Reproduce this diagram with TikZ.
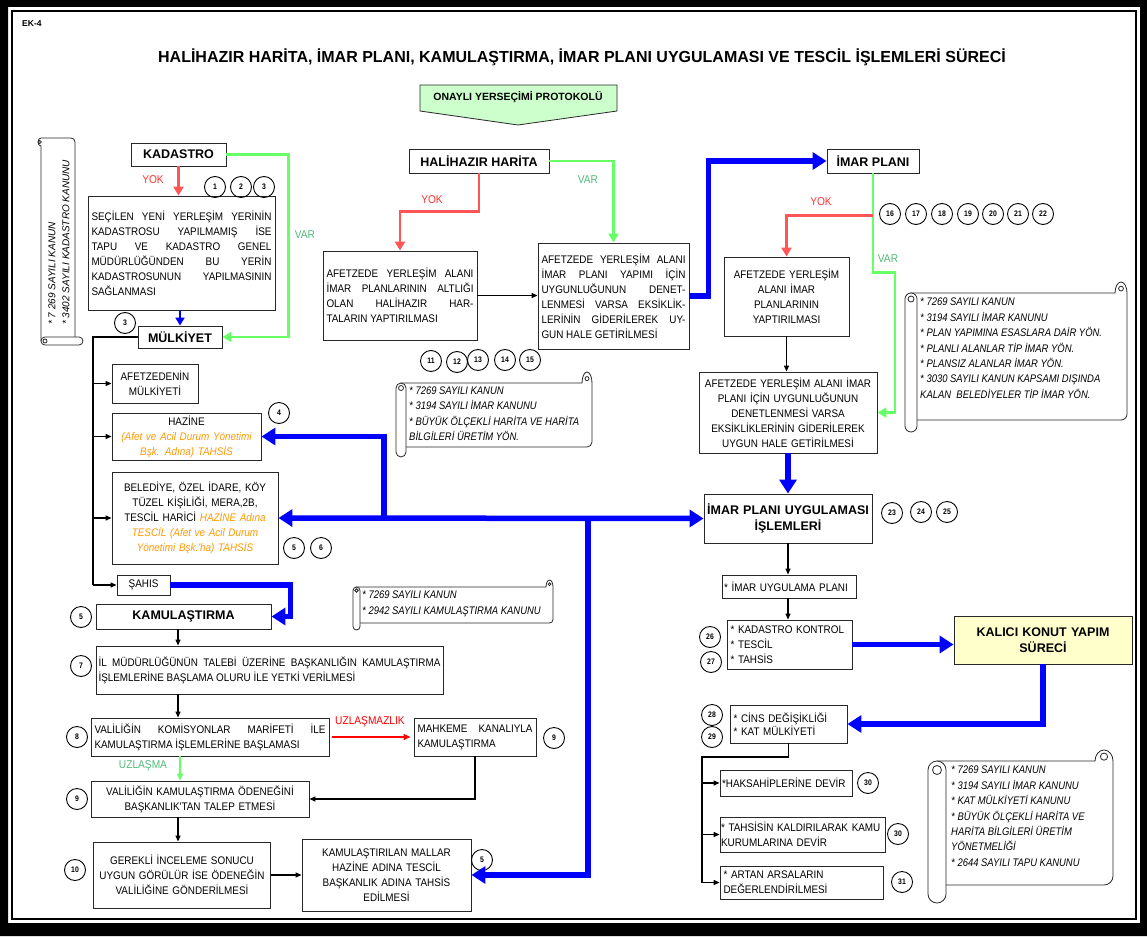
\documentclass[tikz,border=0pt]{standalone}
\usepackage{fontspec}
\setmainfont{Liberation Sans}
\newfontfamily\narrowfont[FakeStretch=0.86]{Liberation Sans}
\newfontfamily\bodyfont[FakeStretch=0.9]{Liberation Sans}
\usetikzlibrary{arrows.meta,calc}

\definecolor{linkred}{RGB}{255,85,85}
\definecolor{linkgreen}{RGB}{102,255,102}
\definecolor{labelgreen}{RGB}{80,185,120}
\definecolor{labelred}{RGB}{255,50,50}
\definecolor{flowblue}{RGB}{0,0,255}
\definecolor{notetext}{RGB}{255,153,0}
\definecolor{startgreen}{RGB}{204,255,204}
\definecolor{finalyellow}{RGB}{255,255,204}
\definecolor{boxline}{RGB}{40,40,40}

% legal-reference scroll: x0, y0, x1, y1, roll width, top offset
\newcommand\lawscroll[6]{%
  \draw[scrollline] ({#1+#5/2},{#2+#6}) -- ({#3-#5},{#2+#6})
     arc[start angle=180,end angle=360,x radius=#5/2,y radius=#6]
     -- ({#3},{#4-1.5*#5}) arc[start angle=0,end angle=90,radius=#5/2]
     -- ({#1+#5/2},{#4-#5}) -- cycle;
  \draw[scrollline] ({#3-#5/2},{#2+0.6*#6}) circle[radius=#5/5];
  \draw[scrollline] (#1,{#4-#5/2}) -- (#1,{#2+#6+#5/2})
     arc[start angle=180,end angle=360,radius=#5/2]
     -- ({#1+#5},{#4-#5/2}) arc[start angle=0,end angle=180,radius=#5/2] -- cycle;
  \draw[scrollline] ({#1+#5/2},{#2+#6+#5/2}) circle[radius=#5/4];
}

\begin{document}
\begin{tikzpicture}[x=1pt,y=-1pt,
  box/.style={draw=boxline, line width=0.9pt, fill=white, inner xsep=3.5pt, inner ysep=1pt,
    font={\bodyfont\fontsize{11}{15}\selectfont\tolerance=9999 \hyphenpenalty=10000 }},
  headbox/.style={box, font=\bfseries\fontsize{12.5}{16}\selectfont, align=center},
  num/.style={circle, draw=black, line width=0.9pt, minimum size=21pt, inner sep=0pt,
    font=\narrowfont\bfseries\fontsize{8}{8}\selectfont},
  lbl/.style={font=\bodyfont\fontsize{11.3}{12}\selectfont, inner sep=0pt},
  law/.style={font=\narrowfont\itshape\fontsize{11}{15.4}\selectfont, align=left, inner sep=0pt, anchor=north west},
  scrollline/.style={draw=black!85, line width=0.8pt, fill=white},
  conn/.style={draw=black, line width=1.3pt, -{Triangle[length=6pt,width=5pt]}},
  trunk/.style={draw=black, line width=1.8pt},
  varline/.style={draw=linkgreen, line width=2.6pt, -{Triangle[length=9pt,width=10pt]}},
  yokline/.style={draw=linkred, line width=2.6pt, -{Triangle[length=9pt,width=10pt]}},
  flow/.style={draw=flowblue, line width=5.5pt, -{Triangle[length=14pt,width=17pt]}},
  thinflow/.style={draw=flowblue, line width=2.5pt, -{Triangle[length=8pt,width=9pt]}}]

\useasboundingbox (0,0) rectangle (1147,936);

% page frame
\fill[black, even odd rule] (0,0) rectangle (1147,936) (8,7) rectangle (1140,923);
\draw[line width=1.8pt] (12,11) rectangle (1136,919);

\node[font=\bfseries\fontsize{8.5}{10}\selectfont, inner sep=0pt, anchor=west] (ek) at (22,23.5) {EK-4};
\node[font=\bfseries\fontsize{16}{19}\selectfont] (title) at (582,57)
  {HALİHAZIR HARİTA, İMAR PLANI, KAMULAŞTIRMA, İMAR PLANI UYGULAMASI VE TESCİL İŞLEMLERİ SÜRECİ};

% starting protocol
\draw[draw=boxline, fill=startgreen, line width=0.8pt] (420,85) -- (617,85) -- (617,111) -- (518,125) -- (420,111) -- cycle;
\node[font=\bfseries\fontsize{10.5}{12}\selectfont, inner sep=0pt] (onay) at (518,97) {ONAYLI YERSEÇİMİ PROTOKOLÜ};

% ---------------- cadastre and ownership ----------------
\begin{scope}[shift={(38,345)}, rotate=90]
  \lawscroll{0}{0}{207}{45}{8}{3}
  \node[rotate=90, anchor=west, inner sep=0pt, font=\itshape\fontsize{10}{12}\selectfont] (lawk1) at (20,14) {* 7 269 SAYILI KANUN};
  \node[rotate=90, anchor=west, inner sep=0pt, font=\itshape\fontsize{10}{12}\selectfont] (lawk2) at (20,28) {* 3402 SAYILI KADASTRO KANUNU};
\end{scope}

\node[headbox, minimum width=95pt, minimum height=23pt] (kad) at (178.5,154.5) {KADASTRO};
\node[box, text width=180pt, minimum height=114pt, align=justify] (kadtxt) at (181.5,253)
  {SEÇİLEN YENİ YERLEŞİM YERİNİN\linebreak KADASTROSU YAPILMAMIŞ İSE\linebreak TAPU VE KADASTRO GENEL\linebreak MÜDÜRLÜĞÜNDEN BU YERİN\linebreak KADASTROSUNUN YAPILMASININ\linebreak SAĞLANMASI};
\node[headbox, minimum width=84pt, minimum height=22pt] (mulk) at (180,337) {MÜLKİYET};
\node[box, text width=79pt, minimum height=39pt, align=center] (afm) at (155,383.5) {AFETZEDENİN\\MÜLKİYETİ};
\node[box, text width=142pt, minimum height=47pt, align=center] (hazine) at (186.5,436.5)
  {HAZİNE\\{\color{notetext}\itshape (Afet ve Acil Durum Yönetimi}\\{\color{notetext}\itshape Bşk. Adına) TAHSİS}};
\node[box, text width=159pt, minimum height=92pt, align=center] (beled) at (195,518)
  {BELEDİYE, ÖZEL İDARE, KÖY\\TÜZEL KİŞİLİĞİ, MERA,2B,\\TESCİL HARİCİ\ {\color{notetext}\itshape HAZİNE Adına}\\{\color{notetext}\itshape TESCİL (Afet ve Acil Durum}\\{\color{notetext}\itshape Yönetimi Bşk.'ha) TAHSİS}};
\node[box, minimum width=53pt, minimum height=20pt] (sahis) at (143.5,585) {ŞAHIS};

\node[num] (n1) at (215,187) {1};
\node[num] (n2) at (241,187) {2};
\node[num] (n3) at (264,187) {3};
\node[num] (n3b) at (125,323) {3};
\node[num] (n4) at (279,413) {4};
\node[num] (n5) at (294,548) {5};
\node[num] (n6) at (321,548) {6};

\draw[yokline] (kad.south) -- (kad.south |- kadtxt.north);
\node[lbl, text=labelred] (yok1) at (153,180) {YOK};
\draw[varline] (kad.east) -- ++(62,0) |- (mulk.east);
\node[lbl, text=labelgreen] (var1) at (305,235) {VAR};
\draw[thinflow] (mulk.north |- kadtxt.south) -- (mulk.north);

\coordinate (mtrunk) at (93,337);
\draw[trunk] (mulk.west) -- (mtrunk) -- (mtrunk |- sahis.west);
\draw[conn] (mtrunk |- afm.west) -- (afm.west);
\draw[conn] (mtrunk |- hazine.west) -- (hazine.west);
\draw[conn] (mtrunk |- beled.west) -- (beled.west);
\draw[conn] (mtrunk |- sahis.west) -- (sahis.west);

% ---------------- expropriation ----------------
\node[headbox, minimum width=175pt, minimum height=25pt] (kamu) at (183.5,616.5) {KAMULAŞTIRMA};
\node[box, text width=342pt, inner xsep=2.5pt, minimum height=48pt, align=justify] (b7) at (269.5,670)
  {İL MÜDÜRLÜĞÜNÜN TALEBİ ÜZERİNE BAŞKANLIĞIN KAMULAŞTIRMA\linebreak İŞLEMLERİNE BAŞLAMA OLURU İLE YETKİ VERİLMESİ};
\node[box, text width=231pt, minimum height=38pt, align=justify] (b8) at (210,737)
  {VALİLİĞİN KOMİSYONLAR MARİFETİ İLE\linebreak KAMULAŞTIRMA İŞLEMLERİNE BAŞLAMASI};
\node[box, text width=115pt, minimum height=38pt, align=justify] (mahk) at (475,737)
  {MAHKEME KANALIYLA\linebreak KAMULAŞTIRMA};
\node[box, text width=211pt, minimum height=36pt, align=center] (b9) at (200,799)
  {VALİLİĞİN KAMULAŞTIRMA ÖDENEĞİNİ\\BAŞKANLIK'TAN TALEP ETMESİ};
\node[box, text width=170pt, minimum height=66pt, align=center] (b10) at (182,875)
  {GEREKLİ İNCELEME SONUCU\\UYGUN GÖRÜLÜR İSE ÖDENEĞİN\\VALİLİĞİNE GÖNDERİLMESİ};
\node[box, text width=162pt, minimum height=72pt, align=center] (kmal) at (386.5,875)
  {KAMULAŞTIRILAN MALLAR\\HAZİNE ADINA TESCİL\\BAŞKANLIK ADINA TAHSİS\\EDİLMESİ};

\node[num] (n5b) at (81,617) {5};
\node[num] (n7) at (81,666) {7};
\node[num] (n8) at (77,737) {8};
\node[num] (n9) at (554,738) {9};
\node[num] (n9b) at (77,799) {9};
\node[num] (n10) at (75,870) {10};
\node[num] (n5c) at (482,860) {5};

\lawscroll{353}{580}{553}{630}{7}{7}
\node[law] (lawkam) at (362,591) {* 7269 SAYILI KANUN\\{}* 2942 SAYILI KAMULAŞTIRMA KANUNU};

\coordinate (kx) at (178,617);
\draw[flow] (sahis.east) -- ++(120,0) |- (kamu.east);
\draw[conn] (kx |- kamu.south) -- (kx |- b7.north);
\draw[conn] (kx |- b7.south) -- (kx |- b8.north);
\draw[draw=red, line width=1.3pt, -{Triangle[length=7pt,width=6pt]}, shorten <=3pt, shorten >=3pt] (b8.east) -- (mahk.west);
\node[lbl, text=red] (uzm) at (370,722) {UZLAŞMAZLIK};
\draw[draw=linkgreen, line width=1.3pt, -{Triangle[length=7pt,width=6pt]}] ([xshift=2pt]kx |- b8.south) -- ([xshift=2pt]kx |- b9.north);
\node[lbl, text=labelgreen] (uz) at (143,766) {UZLAŞMA};
\draw[conn] (mahk.south) |- (b9.east);
\draw[conn] (kx |- b9.south) -- (kx |- b10.north);
\draw[conn] (b10.east) -- (kmal.west);

% ---------------- base map ----------------
\node[headbox, minimum width=140pt, minimum height=24pt] (hali) at (479,161) {HALİHAZIR HARİTA};
\node[box, text width=147pt, minimum height=89pt, align=justify] (hl) at (400,295.5)
  {AFETZEDE YERLEŞİM ALANI\linebreak İMAR PLANLARININ ALTLIĞI\linebreak OLAN HALİHAZIR HAR-\linebreak TALARIN YAPTIRILMASI};
\node[box, text width=144pt, minimum height=106pt, align=justify] (hr) at (613.5,296)
  {\parfillskip=0pt AFETZEDE YERLEŞİM ALANI\linebreak İMAR PLANI YAPIMI İÇİN\linebreak UYGUNLUĞUNUN DENET-\linebreak LENMESİ VARSA EKSİKLİK-\linebreak LERİNİN GİDERİLEREK UY-\linebreak GUN HALE GETİRİLMESİ};

\draw[yokline] (hali.south) -- ++(0,38) -| (hl.north);
\node[lbl, text=labelred] (yok2) at (432,200) {YOK};
\draw[varline] (hali.east) -| (hr.north);
\node[lbl, text=labelgreen] (var2) at (588,180) {VAR};
\draw[conn] (hl.east) -- (hl.east -| hr.west);

\node[num] (n11) at (431,361) {11};
\node[num] (n12) at (457,362) {12};
\node[num] (n13) at (478,360) {13};
\node[num] (n14) at (505,360) {14};
\node[num] (n15) at (530,360) {15};

\lawscroll{396}{372}{592}{457}{10}{11}
\node[law] (lawhar) at (409,386.5) {* 7269 SAYILI KANUN\\{}* 3194 SAYILI İMAR KANUNU\\{}* BÜYÜK ÖLÇEKLİ HARİTA VE HARİTA\\BİLGİLERİ ÜRETİM YÖN.};

% ---------------- zoning plan ----------------
\node[headbox, minimum width=92pt, minimum height=24pt] (imar) at (873,161) {İMAR PLANI};
\node[box, text width=118pt, minimum height=79pt, align=center] (ip1) at (786.5,296.5)
  {AFETZEDE YERLEŞİM\\ALANI İMAR\\PLANLARININ\\YAPTIRILMASI};
\node[box, text width=171pt, minimum height=81pt, align=center] (ip2) at (788,412.5)
  {AFETZEDE YERLEŞİM ALANI İMAR\\PLANI İÇİN UYGUNLUĞUNUN\\DENETLENMESİ VARSA\\EKSİKLİKLERİNİN GİDERİLEREK\\UYGUN HALE GETİRİLMESİ};

\draw[flow] (hr.east) -- ++(19,0) |- (imar.west);
\draw[varline] (imar.south) -- ++(0,99) -- ++(22,0) |- (ip2.east);
\draw[yokline] ($(imar.south)+(0,42)$) -| (ip1.north);
\node[lbl, text=labelred] (yok3) at (821,202) {YOK};
\node[lbl, text=labelgreen] (var3) at (888,259) {VAR};
\draw[conn] (ip1.south) -- (ip1.south |- ip2.north);

\foreach \k/\x in {16/890,17/916,18/942,19/968,20/993,21/1018,22/1043}
  \node[num] (n\k) at (\x,214) {\k};

\lawscroll{905}{282}{1127}{432}{12}{11}
\node[law] (lawimar) at (920,298) {* 7269 SAYILI KANUN\\{}* 3194 SAYILI İMAR KANUNU\\{}* PLAN YAPIMINA ESASLARA DAİR YÖN.\\{}* PLANLI ALANLAR TİP İMAR YÖN.\\{}* PLANSIZ ALANLAR İMAR YÖN.\\{}* 3030 SAYILI KANUN KAPSAMI DIŞINDA\\KALAN\ \ BELEDİYELER TİP İMAR YÖN.};

% ---------------- plan application ----------------
\node[headbox, text width=166pt, inner xsep=1pt, minimum height=49pt] (ipu) at (788,518.5) {İMAR PLANI UYGULAMASI\\İŞLEMLERİ};
\node[box, text width=130pt, inner xsep=2pt, minimum height=23pt, align=left] (iup) at (789,586.5) {\mbox{* İMAR UYGULAMA PLANI}};
\node[box, text width=118pt, minimum height=49pt, align=left] (kk) at (789.5,644.5) {* KADASTRO KONTROL\\{}* TESCİL\\{}* TAHSİS};
\node[headbox, fill=finalyellow, text width=171pt, minimum height=48pt] (kalici) at (1043,640) {KALICI KONUT YAPIM\\SÜRECİ};
\node[box, text width=110pt, minimum height=38pt, align=left, font={\bodyfont\fontsize{11}{13}\selectfont}] (cins) at (788.5,724) {* CİNS DEĞİŞİKLİĞİ\\{}* KAT MÜLKİYETİ};
\node[box, text width=128pt, inner xsep=2pt, minimum height=26pt, align=left] (hak) at (786,783) {\mbox{*HAKSAHİPLERİNE DEVİR}};
\node[box, text width=163pt, inner xsep=1pt, minimum height=35pt, align=left] (tah) at (802.5,834.5) {\mbox{* TAHSİSİN KALDIRILARAK KAMU}\\KURUMLARINA DEVİR};
\node[box, text width=156pt, minimum height=33pt, align=left] (art) at (801.5,882.5) {* ARTAN ARSALARIN\\DEĞERLENDİRİLMESİ};

\node[num] (n23) at (892,513) {23};
\node[num] (n24) at (921,512) {24};
\node[num] (n25) at (947,512) {25};
\node[num] (n26) at (710,637) {26};
\node[num] (n27) at (711,662) {27};
\node[num] (n28) at (712,715) {28};
\node[num] (n29) at (712,737) {29};
\node[num] (n30) at (868,783) {30};
\node[num] (n30b) at (898,834) {30};
\node[num] (n31) at (902,882) {31};

\draw[flow] (ip2.south) -- (ipu.north);
\draw[conn] (ipu.south) -- (ipu.south |- iup.north);
\draw[conn] (ipu.south |- iup.south) -- (ipu.south |- kk.north);
\draw[flow] (kk.east) -- (kk.east -| kalici.west);
\draw[flow] (kalici.south) |- (cins.east);

\coordinate (ctrunk) at (702,757);
\draw[trunk] (cins.south) |- (ctrunk) -- (ctrunk |- art.west);
\draw[conn] (ctrunk |- hak.west) -- (hak.west);
\draw[conn] (ctrunk |- tah.west) -- (tah.west);
\draw[conn] (ctrunk |- art.west) -- (art.west);

\lawscroll{928}{750}{1113}{903}{18}{11}
\node[law] (lawtapu) at (951,766) {* 7269 SAYILI KANUN\\{}* 3194 SAYILI İMAR KANUNU\\{}* KAT MÜLKİYETİ KANUNU\\{}* BÜYÜK ÖLÇEKLİ HARİTA VE\\HARİTA BİLGİLERİ ÜRETİM\\YÖNETMELİĞİ\\{}* 2644 SAYILI TAPU KANUNU};

% ---------------- blue distribution lines ----------------
\coordinate (hubL) at (384,518);
\coordinate (hubR) at (588,518);
\draw[flow, {Triangle[length=14pt,width=17pt]}-{Triangle[length=14pt,width=17pt]}] (beled.east) -- (ipu.west);
\draw[flow] (hubL) |- (hazine.east);
\draw[flow] (hubR) |- (kmal.east);

\end{tikzpicture}
\end{document}
